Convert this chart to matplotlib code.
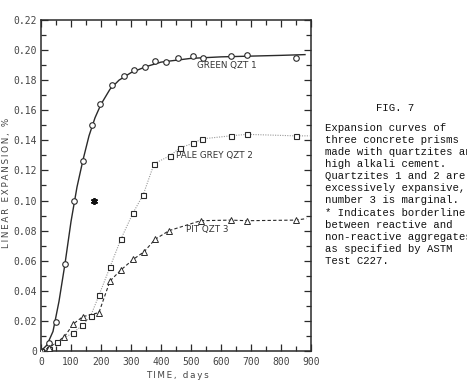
import matplotlib
matplotlib.use("Agg")
import matplotlib.pyplot as plt
from matplotlib.ticker import MultipleLocator, FixedLocator

# ---- data ----
green_x = [0, 25, 49, 81, 111, 141, 169, 198, 236, 276, 310, 348, 379, 416, 458, 506, 541, 633, 686, 850]
green_y = [0.0, 0.005, 0.019, 0.058, 0.100, 0.126, 0.150, 0.164, 0.177, 0.183, 0.187, 0.189, 0.193, 0.192,
           0.195, 0.196, 0.1946, 0.196, 0.197, 0.195]
green_fit_x = [0, 20, 40, 60, 80, 100, 120, 140, 160, 180, 200, 230, 260, 300, 350, 400, 500, 600, 700, 800, 880]
green_fit_y = [0.0, 0.004, 0.013, 0.033, 0.058, 0.086, 0.109, 0.127, 0.143, 0.155, 0.164, 0.174, 0.180,
               0.185, 0.189, 0.192, 0.1945, 0.1955, 0.196, 0.1965, 0.197]

grey_x = [0, 25, 52, 106, 138, 165, 194, 230, 266, 306, 341, 377, 430, 463, 506, 538, 632, 686, 849]
grey_y = [0.0, 0.0015, 0.0058, 0.012, 0.017, 0.023, 0.0374, 0.0558, 0.0742, 0.0915, 0.104, 0.1245, 0.1298,
          0.135, 0.138, 0.141, 0.143, 0.144, 0.143]
grey_line_x = grey_x + [895]
grey_line_y = grey_y + [0.143]

pit_x = [0, 25, 78, 108, 139, 193, 230, 266, 308, 344, 380, 427, 532, 633, 686, 849]
pit_y = [0.0, 0.002, 0.0095, 0.018, 0.0228, 0.0255, 0.0465, 0.0538, 0.061, 0.066, 0.0742, 0.080, 0.0866,
         0.087, 0.0866, 0.087]
pit_line_x = pit_x + [885]
pit_line_y = pit_y + [0.088]

star_x = [178]
star_y = [0.100]

series_labels = ["GREEN QZT 1", "PALE GREY QZT 2", "PIT QZT 3"]
x_ticks = [0, 100, 200, 300, 400, 500, 600, 700, 800, 900]
y_ticks = [0, 0.02, 0.04, 0.06, 0.08, 0.10, 0.12, 0.14, 0.16, 0.18, 0.20, 0.22]
y_tick_labels = ["0", "0.02", "0.04", "0.06", "0.08", "0.10", "0.12", "0.14", "0.16", "0.18", "0.20", "0.22"]
x_label = "TIME, days"
y_label = "LINEAR EXPANSION, %"

caption_title = "FIG. 7"
caption_lines = [
    "Expansion curves of",
    "three concrete prisms",
    "made with quartzites and",
    "high alkali cement.",
    "Quartzites 1 and 2 are",
    "excessively expansive,",
    "number 3 is marginal.",
    "* Indicates borderline",
    "between reactive and",
    "non-reactive aggregates",
    "as specified by ASTM",
    "Test C227.",
]


def spaced(s):
    return "\u2009".join(list(s))


W, H = 467, 382
fig = plt.figure(figsize=(W / 100, H / 100), dpi=100)
ax = fig.add_axes([41 / W, 1 - 351 / H, 270 / W, 331 / H])

dark = "#2a2a2a"
ax.plot(green_fit_x, green_fit_y, color=dark, lw=1.0, zorder=2)
ax.plot(green_x, green_y, ls="none", marker="o", ms=4, mfc="white", mec=dark, mew=0.8, zorder=3)

ax.plot(grey_line_x, grey_line_y, color="#9a9a9a", lw=0.8, ls=(0, (1, 1.2)), zorder=2)
ax.plot(grey_x, grey_y, ls="none", marker="s", ms=3.6, mfc="white", mec=dark, mew=0.8, zorder=3)

ax.plot(pit_line_x, pit_line_y, color=dark, lw=0.8, ls=(0, (3, 2)), zorder=2)
ax.plot(pit_x, pit_y, ls="none", marker="^", ms=3.8, mfc="white", mec=dark, mew=0.7, zorder=3)

ax.plot(star_x, star_y, ls="none", marker=(6, 2, 0), ms=5, mew=1.3, color="#111111", zorder=3)

lab_kw = dict(fontsize=6.3, color="#333333", family="DejaVu Sans")
ax.text(520, 0.1895, series_labels[0], va="center", ha="left", **lab_kw)
ax.text(450, 0.1298, series_labels[1], va="center", ha="left", **lab_kw)
ax.text(482, 0.0805, series_labels[2], va="center", ha="left", **lab_kw)

ax.set_xlim(0, 900)
ax.set_ylim(0, 0.22)
ax.xaxis.set_major_locator(FixedLocator(x_ticks))
ax.xaxis.set_minor_locator(MultipleLocator(50))
ax.yaxis.set_major_locator(FixedLocator(y_ticks))
ax.yaxis.set_minor_locator(MultipleLocator(0.01))
ax.set_yticklabels(y_tick_labels)
ax.tick_params(axis="both", which="both", direction="in", top=True, right=True,
               labelsize=7, labelcolor="#444444", color=dark, width=0.9)
ax.tick_params(axis="both", which="major", length=5)
ax.tick_params(axis="both", which="minor", length=3.5)
ax.tick_params(axis="x", which="major", pad=4)
ax.tick_params(axis="y", which="major", pad=3)
for lbl in ax.get_xticklabels() + ax.get_yticklabels():
    lbl.set_family("DejaVu Sans Mono")
for s in ax.spines.values():
    s.set_color(dark)
    s.set_linewidth(1.1)

fig.text(7 / W, 1 - 183 / H, spaced(y_label), rotation=90, ha="center", va="center",
         fontsize=6.3, color="#444444", family="DejaVu Sans")
fig.text(177 / W, 1 - 376 / H, spaced(x_label), ha="center", va="center", fontsize=6.3,
         color="#444444", family="DejaVu Sans")

fig.text(395 / W, 1 - 108 / H, caption_title, ha="center", va="center", fontsize=7.7,
         family="Liberation Mono", color="#111111")
fig.text(325 / W, 1 - 123 / H, "\n".join(caption_lines), ha="left", va="top", fontsize=7.7,
         family="Liberation Mono", color="#111111", linespacing=1.26)

fig.savefig("out.png", dpi=100, facecolor="white")
